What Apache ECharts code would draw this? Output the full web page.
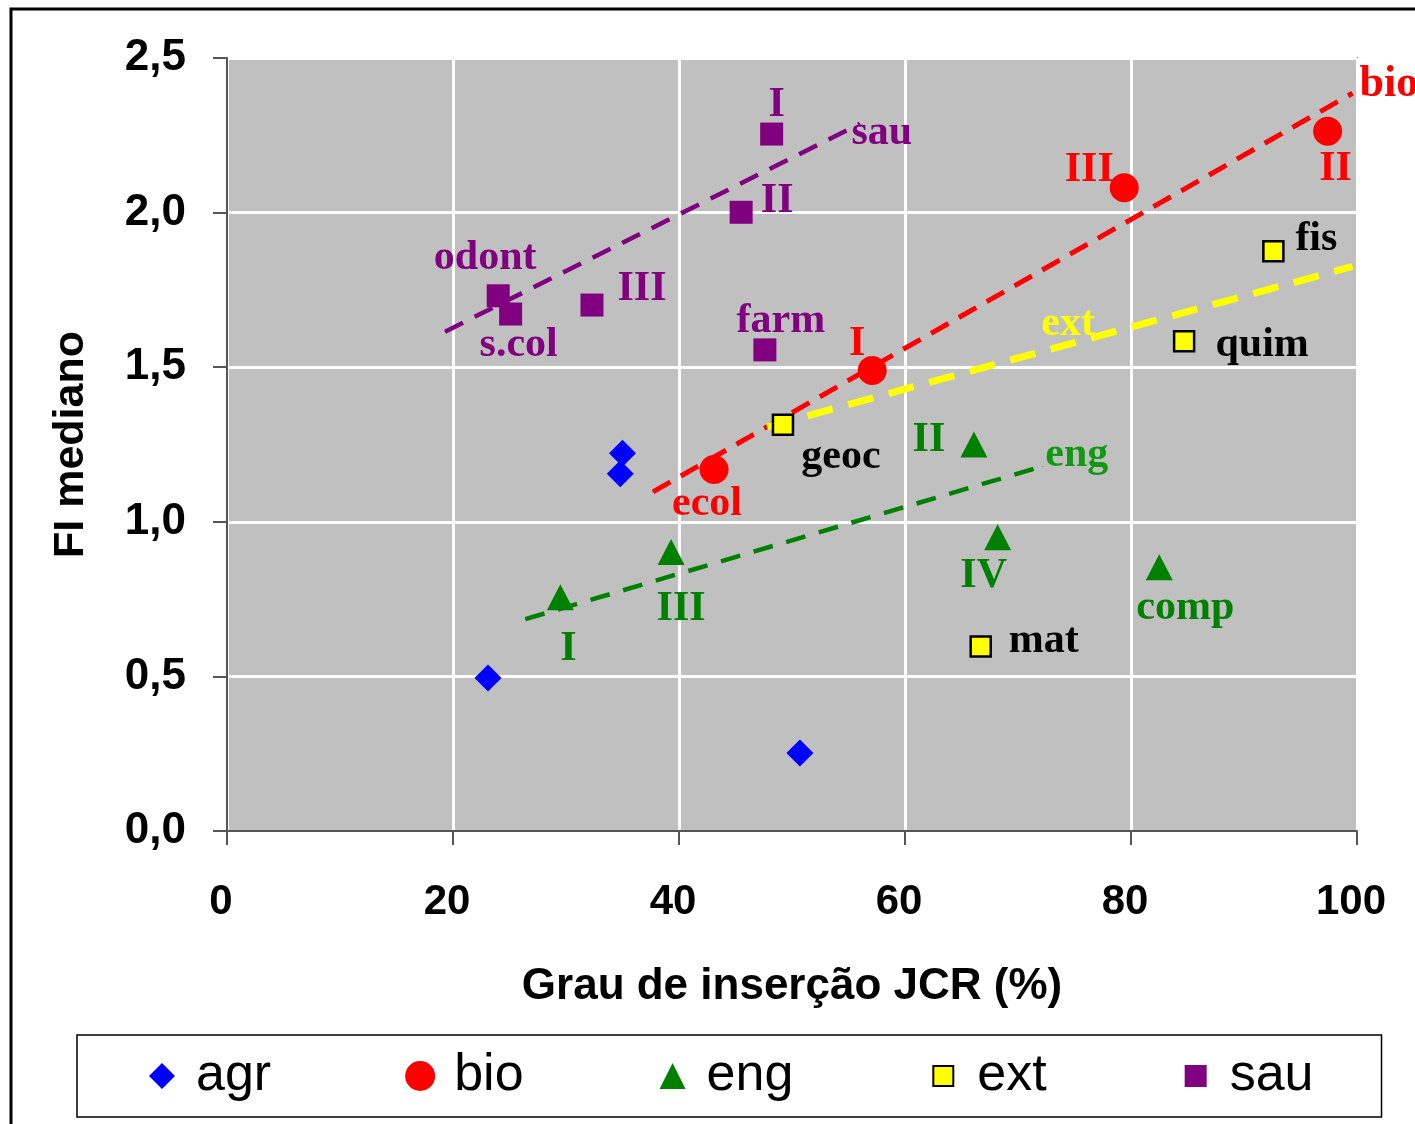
<!DOCTYPE html>
<html>
<head>
<meta charset="utf-8">
<script src="https://cdn.jsdelivr.net/npm/echarts@6/dist/echarts.min.js"></script>
<style>
html,body{margin:0;padding:0;background:#fff;}
#chart{width:1415px;height:1124px;}
</style>
</head>
<body>
<div id="chart"></div>
<script>
// ---- data ----
const xTickLabels = ['0', '20', '40', '60', '80', '100'];
const yTickLabels = ['0,0', '0,5', '1,0', '1,5', '2,0', '2,5'];

const agrX = [35.0, 34.8, 23.1, 50.7];
const agrY = [1.222, 1.155, 0.495, 0.252];

const bioNames = ['ecol', 'I', 'III', 'II'];
const bioX = [43.1, 57.1, 79.4, 97.4];
const bioY = [1.169, 1.489, 2.080, 2.263];

const engNames = ['I', 'III', 'II', 'IV', 'comp'];
const engX = [29.5, 39.3, 66.1, 68.2, 82.5];
const engY = [0.756, 0.902, 1.250, 0.950, 0.853];

const extNames = ['geoc', 'mat', 'quim', 'fis'];
const extX = [49.2, 66.7, 84.7, 92.6];
const extY = [1.314, 0.597, 1.584, 1.875];

const sauNames = ['odont', 's.col', 'III', 'II', 'I', 'farm'];
const sauX = [24.0, 25.1, 32.3, 45.5, 48.2, 47.6];
const sauY = [1.731, 1.672, 1.701, 2.001, 2.254, 1.556];

// trend lines (start, end)
const sauTrendX = [19.3, 56.0];
const sauTrendY = [1.615, 2.287];
const bioTrendX = [37.7, 99.6];
const bioTrendY = [1.097, 2.386];
const extTrendX = [47.8, 99.6];
const extTrendY = [1.307, 1.826];
const engTrendX = [26.4, 72.2];
const engTrendY = [0.685, 1.180];

const seriesNames = ['agr', 'bio', 'eng', 'ext', 'sau'];

// ---- label placement (pixel offsets, styling only) ----
const labelOffsets = {
  bio: [[-7, 35], [-15, -26], [-35, -18], [8, 38]],
  eng: [[8, 52], [10, 57], [-45, -4], [-14, 39], [26, 41]],
  ext: [[58, 32], [63, -5], [78, 4], [43, -12]],
  sau: [[-13, -38], [8, 31], [50, -16], [36, -11], [5, -29], [16, -29]]
};

const serif = '"Liberation Serif", "Times New Roman", serif';
const sans = '"Liberation Sans", Arial, sans-serif';

function pts(xs, ys, names, offs) {
  return xs.map((x, i) => {
    const item = { value: [x, ys[i]] };
    if (names) {
      item.label = { show: true, formatter: names[i], offset: offs[i] };
    }
    return item;
  });
}

function trend(name, xs, ys, color, width, dash, labelIdx, labelText, labelOpt) {
  const data = xs.map((x, i) => {
    const it = { value: [x, ys[i]] };
    if (i === labelIdx) {
      it.label = Object.assign({ show: true, formatter: labelText, position: 'inside' }, labelOpt);
    }
    return it;
  });
  return {
    name: name, type: 'line', data: data, z: 2,
    symbol: 'circle', symbolSize: 1, showSymbol: true,
    itemStyle: { color: color },
    lineStyle: { color: color, width: width, type: dash },
    label: { show: false, fontFamily: serif, fontWeight: 'bold', fontSize: 42, color: color },
    emphasis: { disabled: true },
    silent: true
  };
}

const labelBase = { position: 'inside', fontFamily: serif, fontWeight: 'bold', fontSize: 42 };

const chart = echarts.init(document.getElementById('chart'), null, { renderer: 'canvas' });
chart.setOption({
  animation: false,
  backgroundColor: '#ffffff',
  graphic: [{
    type: 'rect', shape: { x: 11, y: 9, width: 1500, height: 1200 },
    style: { fill: 'none', stroke: '#000', lineWidth: 3 }, silent: true, z: -1
  }],
  grid: {
    left: 227, right: 58, top: 58, bottom: 293,
    show: true, backgroundColor: '#C0C0C0', borderColor: '#808080', borderWidth: 2
  },
  xAxis: {
    type: 'value', min: 0, max: 100, interval: 20,
    name: 'Grau de inserção JCR (%)', nameLocation: 'middle', nameGap: 134,
    nameTextStyle: { fontFamily: sans, fontWeight: 'bold', fontSize: 44, color: '#000', lineHeight: 44 },
    axisLine: { show: true, onZero: false, lineStyle: { color: '#555', width: 2 } },
    axisTick: { show: true, length: 14, lineStyle: { color: '#555', width: 2 } },
    axisLabel: {
      formatter: (v) => xTickLabels[Math.round(v / 20)],
      fontFamily: sans, fontWeight: 'bold', fontSize: 42, color: '#000',
      margin: 50, lineHeight: 42, padding: [0, 12, 0, 0]
    },
    splitLine: { show: true, lineStyle: { color: '#ffffff', width: 3 } }
  },
  yAxis: {
    type: 'value', min: 0, max: 2.5, interval: 0.5,
    name: 'FI mediano', nameLocation: 'middle', nameGap: 134, nameRotate: 90,
    nameTextStyle: { fontFamily: sans, fontWeight: 'bold', fontSize: 43, color: '#000', lineHeight: 43 },
    axisLine: { show: true, onZero: false, lineStyle: { color: '#555', width: 2 } },
    axisTick: { show: true, length: 14, lineStyle: { color: '#555', width: 2 } },
    axisLabel: {
      formatter: (v) => yTickLabels[Math.round(v / 0.5)],
      fontFamily: sans, fontWeight: 'bold', fontSize: 44, color: '#000',
      margin: 41, lineHeight: 44, padding: [10, 0, 0, 0]
    },
    splitLine: { show: true, lineStyle: { color: '#ffffff', width: 3 } }
  },
  legend: {
    data: [
      { name: 'agr', icon: 'path://M0,0M15,2L28,15L15,28L2,15ZM30,30' },
      { name: 'bio', icon: 'circle' },
      { name: 'eng', icon: 'path://M0,0M15,2L28,28L2,28ZM30,30' },
      { name: 'ext', icon: 'path://M0,0M5,5H25V25H5ZM30,30' },
      { name: 'sau', icon: 'path://M0,0M4,4H26V26H4ZM30,30' }
    ],
    left: 77, top: 1035,
    orient: 'horizontal',
    itemWidth: 58, itemHeight: 30, itemGap: 134,
    padding: [15, 68, 15, 70],
    borderColor: '#000', borderWidth: 1.5,
    textStyle: { fontFamily: sans, fontSize: 52, color: '#000', lineHeight: 52 },
    selectedMode: false
  },
  series: [
    trend('sauTrend', sauTrendX, sauTrendY, '#800080', 4.5, [20, 13], 1, 'sau', { offset: [22, 9] }),
    trend('bioTrend', bioTrendX, bioTrendY, '#FF0000', 5, [20, 12], 1, 'bio', { offset: [7, -9], align: 'left', fontSize: 44 }),
    trend('extTrend', extTrendX, extTrendY, '#FFFF00', 7, [26, 16], 0, 'ext', { offset: [301, -103] }),
    trend('engTrend', engTrendX, engTrendY, '#008000', 4.5, [20, 14], 1, 'eng', { offset: [34, -11], color: '#119911' }),
    {
      name: 'agr', type: 'scatter', z: 3, symbol: 'diamond', symbolSize: [27, 27],
      itemStyle: { color: '#0000FF', opacity: 1 },
      data: pts(agrX, agrY, null, null)
    },
    {
      name: 'bio', type: 'scatter', z: 3, symbol: 'circle', symbolSize: 29,
      itemStyle: { color: '#FF0000', opacity: 1 },
      label: Object.assign({ color: '#FF0000' }, labelBase),
      data: pts(bioX, bioY, bioNames, labelOffsets.bio)
    },
    {
      name: 'eng', type: 'scatter', z: 3, symbol: 'triangle', symbolSize: [27, 26],
      itemStyle: { color: '#008000', opacity: 1 },
      label: Object.assign({ color: '#008000' }, labelBase),
      data: pts(engX, engY, engNames, labelOffsets.eng)
    },
    {
      name: 'ext', type: 'scatter', z: 3, symbol: 'rect', symbolSize: 20,
      itemStyle: { color: '#FFFF00', borderColor: '#000', borderWidth: 2.5, opacity: 1 },
      label: Object.assign({ color: '#000000' }, labelBase),
      data: pts(extX, extY, extNames, labelOffsets.ext)
    },
    {
      name: 'sau', type: 'scatter', z: 3, symbol: 'rect', symbolSize: 23,
      itemStyle: { color: '#800080', opacity: 1 },
      label: Object.assign({ color: '#800080' }, labelBase),
      data: pts(sauX, sauY, sauNames, labelOffsets.sau)
    }
  ]
});
</script>
</body>
</html>
